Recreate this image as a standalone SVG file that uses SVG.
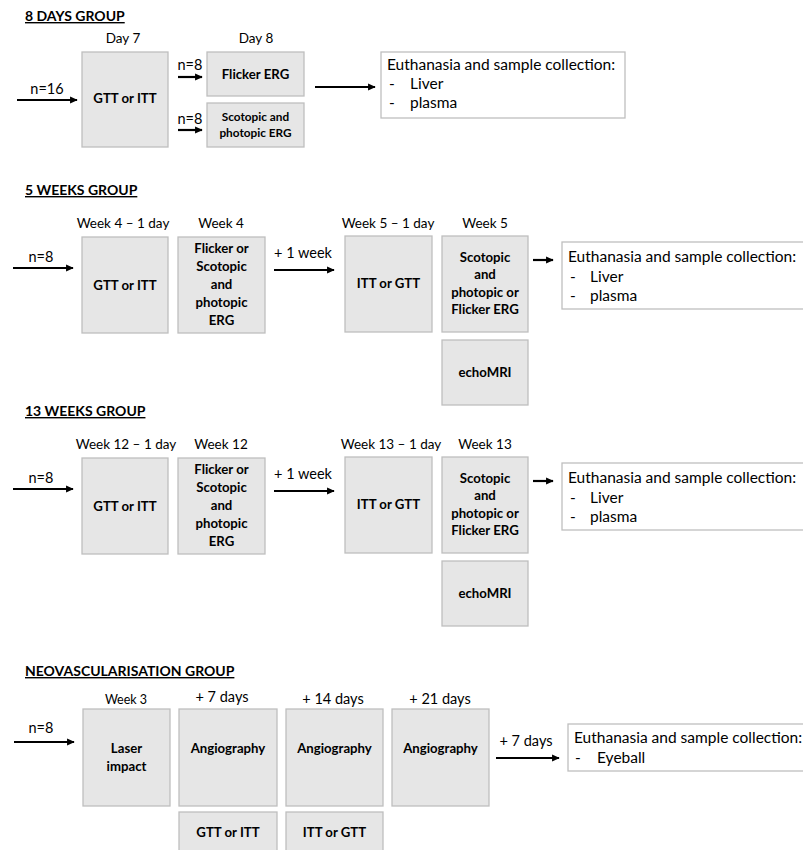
<svg xmlns="http://www.w3.org/2000/svg" width="803" height="850" viewBox="0 0 803 850">
<defs>
<marker id="ah" viewBox="0 0 10 10" refX="9" refY="5" markerWidth="3.5" markerHeight="3.5" orient="auto" markerUnits="strokeWidth">
<path d="M0,0.5 L10,5 L0,9.5 z" fill="#000"/>
</marker>
<style>
text{font-family:Lato,"Open Sans","Liberation Sans",sans-serif;fill:#000}
.hd{font-size:14px;font-weight:bold;text-decoration:underline}
.lb{font-size:13.5px;text-anchor:middle}
.lbl{font-size:14.5px;text-anchor:middle}
.bx{fill:#e6e6e6;stroke:#bfbfbf;stroke-width:1.3}
.eb{fill:#fff;stroke:#bfbfbf;stroke-width:1.3}
.bt{font-size:13.2px;font-weight:bold;text-anchor:middle}
.bs{font-size:11.8px;font-weight:bold;text-anchor:middle}
.et{font-size:15.5px}
.ar{stroke:#000;stroke-width:2.2;fill:none;marker-end:url(#ah)}
</style>
</defs>
<rect width="803" height="850" fill="#fff"/>

<!-- Headings and labels -->
<g id="headings">
<text class="hd" x="25" y="21">8 DAYS GROUP</text>
<text class="hd" x="25" y="195">5 WEEKS GROUP</text>
<text class="hd" x="25" y="416">13 WEEKS GROUP</text>
<text class="hd" x="25" y="676">NEOVASCULARISATION GROUP</text>
</g>
<g id="time-labels">
<text class="lb" x="123" y="43">Day 7</text>
<text class="lb" x="256" y="43">Day 8</text>
<text class="lb" x="123" y="228">Week 4 – 1 day</text>
<text class="lb" x="221" y="228">Week 4</text>
<text class="lb" x="388" y="228">Week 5 – 1 day</text>
<text class="lb" x="485" y="228">Week 5</text>
<text class="lb" x="126" y="449">Week 12 – 1 day</text>
<text class="lb" x="221" y="449">Week 12</text>
<text class="lb" x="391" y="449">Week 13 – 1 day</text>
<text class="lb" x="485" y="449">Week 13</text>
<text class="lb" x="126" y="704" style="font-size:12.5px">Week 3</text>
<text class="lbl" x="222" y="702">+ 7 days</text>
<text class="lbl" x="333" y="704">+ 14 days</text>
<text class="lbl" x="440" y="704">+ 21 days</text>
</g>

<!-- 8 days group -->
<g id="d8-gtt"><rect class="bx" x="82" y="52" width="86" height="95"/><text class="bt" x="125" y="103">GTT or ITT</text></g>
<g id="d8-flicker"><rect class="bx" x="207" y="52" width="97" height="44"/><text class="bt" x="255.5" y="79">Flicker ERG</text></g>
<g id="d8-scotopic"><rect class="bx" x="207" y="103" width="97" height="44"/><text class="bs" x="255.5" y="121">Scotopic and</text><text class="bs" x="255.5" y="137">photopic ERG</text></g>
<g id="d8-euth"><rect class="eb" x="381" y="52" width="244" height="66"/>
<text class="et" x="387" y="70">Euthanasia and sample collection:</text>
<text class="et" x="389" y="89">-</text><text class="et" x="410" y="89">Liver</text>
<text class="et" x="389" y="108">-</text><text class="et" x="410" y="108">plasma</text></g>

<!-- 5 weeks group -->
<g id="w5-gtt"><rect class="bx" x="82" y="237" width="86" height="96"/><text class="bt" x="125" y="290">GTT or ITT</text></g>
<g id="w5-erg1"><rect class="bx" x="178" y="237" width="87" height="96"/>
<text class="bt" x="221.5" y="253">Flicker or</text><text class="bt" x="221.5" y="271">Scotopic</text><text class="bt" x="221.5" y="289">and</text><text class="bt" x="221.5" y="307">photopic</text><text class="bt" x="221.5" y="325">ERG</text></g>
<g id="w5-itt"><rect class="bx" x="345" y="236" width="87" height="96"/><text class="bt" x="388.5" y="288">ITT or GTT</text></g>
<g id="w5-erg2"><rect class="bx" x="442" y="236" width="86" height="96"/>
<text class="bt" x="485" y="262">Scotopic</text><text class="bt" x="485" y="279">and</text><text class="bt" x="485" y="297">photopic or</text><text class="bt" x="485" y="314">Flicker ERG</text></g>
<g id="w5-echo"><rect class="bx" x="442" y="340" width="86" height="65"/><text class="bt" x="485" y="377">echoMRI</text></g>
<g id="w5-euth"><rect class="eb" x="562" y="242" width="250" height="67"/>
<text class="et" x="568" y="262">Euthanasia and sample collection:</text>
<text class="et" x="570" y="282">-</text><text class="et" x="590" y="282">Liver</text>
<text class="et" x="570" y="301">-</text><text class="et" x="590" y="301">plasma</text></g>

<!-- 13 weeks group -->
<g id="w13-gtt"><rect class="bx" x="82" y="458" width="86" height="96"/><text class="bt" x="125" y="511">GTT or ITT</text></g>
<g id="w13-erg1"><rect class="bx" x="178" y="458" width="87" height="96"/>
<text class="bt" x="221.5" y="474">Flicker or</text><text class="bt" x="221.5" y="492">Scotopic</text><text class="bt" x="221.5" y="510">and</text><text class="bt" x="221.5" y="528">photopic</text><text class="bt" x="221.5" y="546">ERG</text></g>
<g id="w13-itt"><rect class="bx" x="345" y="457" width="87" height="96"/><text class="bt" x="388.5" y="509">ITT or GTT</text></g>
<g id="w13-erg2"><rect class="bx" x="442" y="457" width="86" height="96"/>
<text class="bt" x="485" y="483">Scotopic</text><text class="bt" x="485" y="500">and</text><text class="bt" x="485" y="518">photopic or</text><text class="bt" x="485" y="535">Flicker ERG</text></g>
<g id="w13-echo"><rect class="bx" x="442" y="561" width="86" height="65"/><text class="bt" x="485" y="598">echoMRI</text></g>
<g id="w13-euth"><rect class="eb" x="562" y="463" width="250" height="67"/>
<text class="et" x="568" y="483">Euthanasia and sample collection:</text>
<text class="et" x="570" y="503">-</text><text class="et" x="590" y="503">Liver</text>
<text class="et" x="570" y="522">-</text><text class="et" x="590" y="522">plasma</text></g>

<!-- Neovascularisation group -->
<g id="nv-laser"><rect class="bx" x="83" y="709" width="87" height="97"/><text class="bt" x="126.5" y="753">Laser</text><text class="bt" x="126.5" y="771">impact</text></g>
<g id="nv-angio1"><rect class="bx" x="179" y="709" width="98" height="97"/><text class="bt" x="228" y="753">Angiography</text></g>
<g id="nv-angio2"><rect class="bx" x="286" y="709" width="97" height="97"/><text class="bt" x="334.5" y="753">Angiography</text></g>
<g id="nv-angio3"><rect class="bx" x="392" y="709" width="97" height="97"/><text class="bt" x="440.5" y="753">Angiography</text></g>
<g id="nv-gtt"><rect class="bx" x="179" y="812" width="98" height="50"/><text class="bt" x="228" y="837">GTT or ITT</text></g>
<g id="nv-itt"><rect class="bx" x="286" y="812" width="97" height="50"/><text class="bt" x="334.5" y="837">ITT or GTT</text></g>
<g id="nv-euth"><rect class="eb" x="568" y="724" width="245" height="47"/>
<text class="et" x="574" y="743">Euthanasia and sample collection:</text>
<text class="et" x="575" y="763">-</text><text class="et" x="597" y="763">Eyeball</text></g>

<!-- Connectors -->
<g id="connectors">
<line class="ar" x1="17" y1="100" x2="77" y2="100"/>
<line class="ar" x1="178" y1="77" x2="202" y2="77"/>
<line class="ar" x1="178" y1="130" x2="202" y2="130"/>
<line class="ar" x1="315" y1="87" x2="375" y2="87"/>
<line class="ar" x1="13" y1="268" x2="73" y2="268"/>
<line class="ar" x1="274" y1="270" x2="334" y2="270"/>
<line class="ar" x1="533" y1="260" x2="553" y2="260"/>
<line class="ar" x1="13" y1="489" x2="73" y2="489"/>
<line class="ar" x1="274" y1="491" x2="334" y2="491"/>
<line class="ar" x1="533" y1="481" x2="553" y2="481"/>
<line class="ar" x1="14" y1="742" x2="74" y2="742"/>
<line class="ar" x1="496" y1="758" x2="559" y2="758"/>
</g>
<g id="connector-labels">
<text class="lbl" x="47" y="94">n=16</text>
<text class="lbl" x="190" y="70">n=8</text>
<text class="lbl" x="190" y="124">n=8</text>
<text class="lbl" x="41" y="262">n=8</text>
<text class="lbl" x="303" y="258">+ 1 week</text>
<text class="lbl" x="41" y="483">n=8</text>
<text class="lbl" x="303" y="479">+ 1 week</text>
<text class="lbl" x="41" y="733">n=8</text>
<text class="lbl" x="526" y="746">+ 7 days</text>
</g>
</svg>
